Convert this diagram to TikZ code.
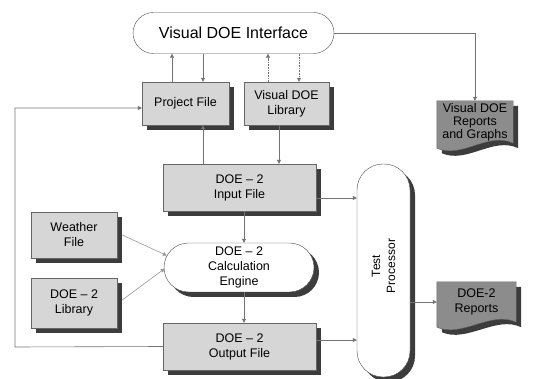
\documentclass[tikz,border=0pt]{standalone}
\usepackage{fontspec}
\setmainfont{Liberation Sans}
\usetikzlibrary{shapes.misc,shadows,arrows.meta,calc,backgrounds}
\definecolor{boxgray}{RGB}{214,214,214}
\definecolor{docgray}{RGB}{140,140,140}
\definecolor{shadowgray}{RGB}{60,60,60}
\tikzset{
  every node/.style={font=\fontsize{12.5}{15}\selectfont},
  flow/.style={draw=black!55,line width=0.6pt,-{Triangle[length=4pt,width=4pt]}},
  dshadow/.style={drop shadow={shadow xshift=5pt,shadow yshift=-5pt,opacity=1,fill=shadowgray}},
  filebox/.style={draw=black!60,fill=boxgray,align=center,inner sep=1pt,dshadow},
  pill/.style={rounded rectangle,draw=black!70,fill=white,align=center,inner sep=1pt}
}
\begin{document}
\begin{tikzpicture}[x=1pt,y=-1pt]
\useasboundingbox (0,0) rectangle (538,379);
% interface, project files, reports
\node[pill,minimum width=203pt,minimum height=41pt,font=\fontsize{16}{19}\selectfont] (iface) at (233.5,33) {Visual DOE Interface};
\node[filebox,minimum width=87pt,minimum height=43pt] (pf) at (185.5,103.5) {Project File};
\node[filebox,minimum width=85pt,minimum height=43pt] (vlib) at (286.5,103.5) {Visual DOE\\Library};
\node[align=center,minimum width=76pt,minimum height=42pt,inner sep=0pt,font=\fontsize{12.5}{13}\selectfont] (vrep) at (475,122) {Visual DOE\\Reports\\and Graphs};
% DOE-2 chain
\node[filebox,minimum width=153pt,minimum height=47pt] (inp) at (239.5,187.5) {DOE – 2\\Input File};
\node[filebox,minimum width=86pt,minimum height=46pt] (wf) at (74,235) {Weather\\File};
\node[filebox,minimum width=86pt,minimum height=50pt] (dlib) at (74,303) {DOE – 2\\Library};
\node[pill,dshadow,minimum width=152pt,minimum height=49pt] (calc) at (239,267.5) {DOE – 2\\Calculation\\Engine};
\node[filebox,minimum width=153pt,minimum height=47pt] (out) at (239.5,346.5) {DOE – 2\\Output File};
% test processor
\node[rectangle,rounded corners=26pt,draw=black!70,fill=white,dshadow,minimum width=53pt,minimum height=213pt] (tp) at (383.5,270.5) {};
\node[rotate=90,align=center,font=\fontsize{12}{15}\selectfont] (tptext) at (383.5,266) {Test\\Processor};
\node[align=center,minimum width=79pt,minimum height=40pt,inner sep=0pt] (drep) at (476.5,302) {DOE-2\\Reports};
% document shapes
\begin{scope}[on background layer]
  \path[fill=docgray,draw=black!60,dshadow] (vrep.north west) -- (vrep.north east) -- (vrep.south east)
    .. controls ($(vrep.south east)+(-25,-12)$) and ($(vrep.south west)+(25,16)$) .. ($(vrep.south west)+(0,5)$) -- cycle;
  \path[fill=docgray,draw=black!60,dshadow] (drep.north west) -- (drep.north east) -- (drep.south east)
    .. controls ($(drep.south east)+(-25,-12)$) and ($(drep.south west)+(25,16)$) .. ($(drep.south west)+(0,5)$) -- cycle;
\end{scope}
% connectors
\draw[flow] ([xshift=-13.5pt]pf.north) -- ([xshift=-13.5pt]pf.north |- iface.south);
\draw[flow] ([xshift=17.5pt]pf.north |- iface.south) -- ([xshift=17.5pt]pf.north);
\draw[flow,densely dotted] ([xshift=-18.5pt]vlib.north) -- ([xshift=-18.5pt]vlib.north |- iface.south);
\draw[flow,densely dotted] ([xshift=12.5pt]vlib.north |- iface.south) -- ([xshift=12.5pt]vlib.north);
\draw[flow] (iface.east) -| (vrep.north);
\draw[flow] ([xshift=17.5pt]pf.south |- inp.north) -- ([xshift=17.5pt]pf.south);
\draw[flow] ([xshift=-7.5pt]vlib.south) -- ([xshift=-7.5pt]vlib.south |- inp.north);
\draw[flow] ([xshift=4.5pt]inp.south) -- ([xshift=4.5pt]inp.south |- calc.north);
\draw[flow] ([xshift=5pt]calc.south) -- ([xshift=5pt]calc.south |- out.north);
\draw[flow] ([yshift=-10.5pt]inp.east) -- ([yshift=-10.5pt]inp.east -| tp.west);
\draw[flow] ([yshift=6.5pt]out.east) -- ([yshift=6.5pt]out.east -| tp.west);
\draw[flow] (drep.west -| tp.east) -- (drep.west);
\draw[flow,draw=black!40] ([xshift=5pt]wf.east) -- ([xshift=3pt,yshift=12pt]calc.west);
\draw[flow,draw=black!40] ([xshift=5pt,yshift=3pt]dlib.east) -- ([xshift=1pt,yshift=-1pt]calc.west);
\coordinate (loopc) at (15,347);
\draw[flow] (out.west) -- (loopc) |- ([yshift=-4.5pt]pf.west);
\end{tikzpicture}
\end{document}
